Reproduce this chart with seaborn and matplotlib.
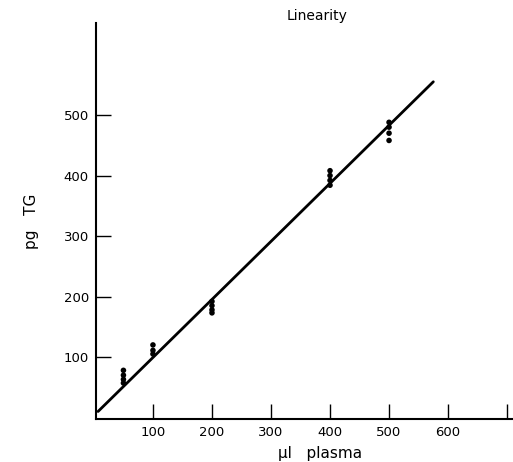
import matplotlib
matplotlib.use('Agg')
import matplotlib.pyplot as plt
import seaborn as sns
import pandas as pd

# Measured points: plasma volume (ul) vs triglyceride (ug)
vol = [50, 50, 50, 50,
       100, 100, 100,
       200, 200, 200, 200,
       400, 400, 400, 400,
       500, 500, 500, 500]
tg = [78, 70, 63, 57,
      120, 111, 105,
      192, 185, 178, 173,
      408, 400, 392, 384,
      488, 480, 470, 458]

# Regression line end points
line_x = [7, 575]
line_y = [10, 555]

x_ticks = [100, 200, 300, 400, 500, 600, 700]
x_labels = ['100', '200', '300', '400', '500', '600', '']
y_ticks = [100, 200, 300, 400, 500]

df = pd.DataFrame({'vol': vol, 'tg': tg})
df_line = pd.DataFrame({'vol': line_x, 'tg': line_y})

sns.set_style('ticks')
plt.rcParams['font.family'] = ['DejaVu Sans']
plt.rcParams['text.color'] = 'black'
plt.rcParams['axes.labelcolor'] = 'black'

fig = plt.figure(figsize=(5.13, 4.62), dpi=100)
ax = fig.add_axes([0.187, 0.093, 0.813, 0.857])

sns.lineplot(data=df_line, x='vol', y='tg', color='black', linewidth=2.0, ax=ax)
sns.scatterplot(data=df, x='vol', y='tg', color='black', s=16, edgecolor='none', ax=ax)

ax.set_xlim(3.4, 710)
ax.set_ylim(-2.5, 652)
ax.set_xticks(x_ticks)
ax.set_xticklabels(x_labels)
ax.set_yticks(y_ticks)
ax.tick_params(direction='in', length=11, width=1.0, labelsize=9.5,
               colors='black', labelcolor='black', pad=5)
for s in ['top', 'right']:
    ax.spines[s].set_visible(False)
for s in ['left', 'bottom']:
    ax.spines[s].set_linewidth(1.5)
    ax.spines[s].set_color('black')

ax.set_xlabel('µl   plasma', fontsize=11, color='black')
ax.xaxis.set_label_coords(0.537, -0.068)
ax.set_ylabel('pg   TG', fontsize=11, labelpad=18, color='black')
ax.set_title('Linearity', fontsize=10, pad=2, x=0.53, color='black')

fig.savefig('out.png', dpi=100)
